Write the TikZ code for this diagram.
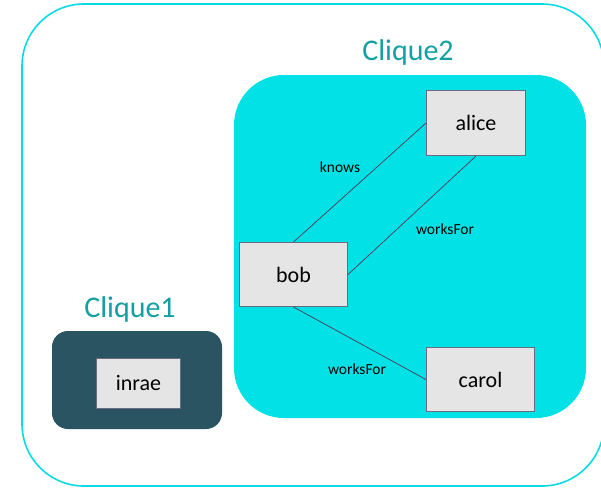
\documentclass[tikz,border=0pt]{standalone}
\usepackage{fontspec}
\setmainfont{Carlito}
\definecolor{cyanline}{RGB}{10,218,226}
\definecolor{cyanfill}{RGB}{2,226,230}
\definecolor{cliquetext}{RGB}{18,160,162}
\definecolor{darkgroup}{RGB}{42,84,97}
\definecolor{nodefill}{RGB}{229,229,229}
\definecolor{nodeline}{RGB}{105,108,128}
\definecolor{edgecol}{RGB}{70,72,100}
\tikzset{
  entity/.style={draw=nodeline, line width=1pt, fill=nodefill, font=\fontsize{22}{25}\selectfont, inner sep=0pt, anchor=north west},
  rel/.style={draw=edgecol, line width=0.8pt},
  rellabel/.style={font=\fontsize{15.5}{18}\selectfont, text=black},
  groupname/.style={font=\fontsize{30}{34}\selectfont, text=cliquetext}
}
\begin{document}
\begin{tikzpicture}[x=1pt,y=-1pt]
\useasboundingbox (0,0) rectangle (601,488);
% outer frame, its right side just past the edge of the page
\draw[cyanline, line width=1.6pt, rounded corners=62pt] (22,4) rectangle (604,486);
% groups
\fill[cyanfill, rounded corners=50pt] (234,75) rectangle (586,418);
\fill[darkgroup, rounded corners=16pt] (52,331) rectangle (222,429);
\node[groupname] (c2) at (408,52) {Clique2};
\node[groupname] (c1) at (130,309) {Clique1};
% entities
\node[entity, minimum width=99pt, minimum height=65pt] (alice) at (426,90) {alice};
\node[entity, minimum width=108pt, minimum height=64pt] (bob) at (239,242) {bob};
\node[entity, minimum width=108pt, minimum height=64pt] (carol) at (426,347) {carol};
\node[entity, minimum width=84pt, minimum height=50pt] (inrae) at (96,358) {inrae};
% relations
\draw[rel] (bob.north) -- (alice.west);
\draw[rel] (bob.east) -- (alice.south);
\draw[rel] (bob.south) -- (carol.west);
\node[rellabel] (l1) at (340,167) {knows};
\node[rellabel] (l2) at (445,229) {worksFor};
\node[rellabel] (l3) at (357,369) {worksFor};
\end{tikzpicture}
\end{document}
